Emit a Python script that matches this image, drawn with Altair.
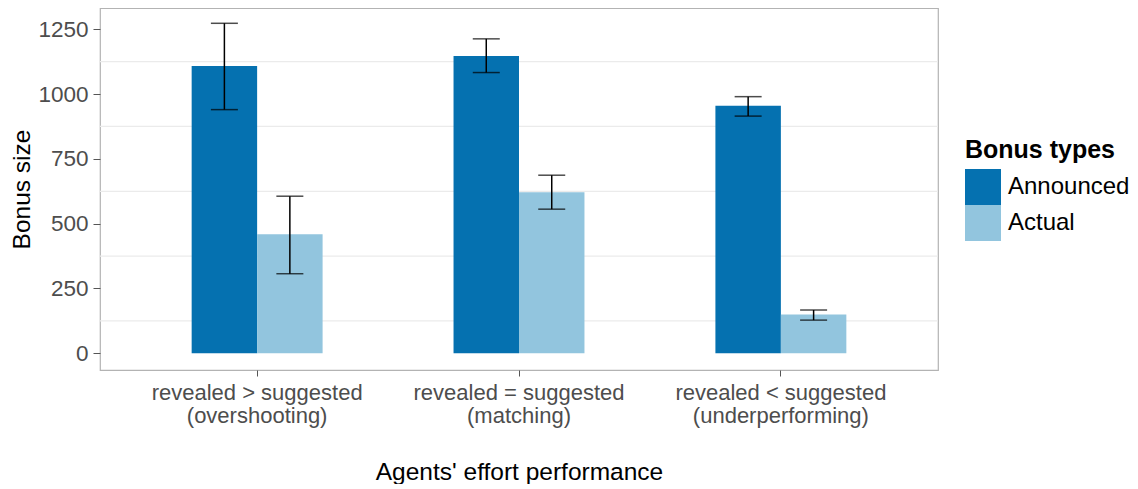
import altair as alt
import pandas as pd

categories = [
    "revealed > suggested|(overshooting)",
    "revealed = suggested|(matching)",
    "revealed < suggested|(underperforming)",
]
bonus_types = ["Announced", "Actual"]
announced_mean = [1108, 1147, 955]
announced_low = [940, 1083, 915]
announced_high = [1273, 1213, 990]
actual_mean = [459, 621, 150]
actual_low = [307, 556, 128]
actual_high = [606, 687, 167]
minor_grid = [125, 375, 625, 875, 1125]
y_ticks = [0, 250, 500, 750, 1000, 1250]
colors = ["#0571b0", "#92c5de"]

rows = []
for i, c in enumerate(categories):
    rows.append(dict(cat=c, type="Announced", mean=announced_mean[i], lo=announced_low[i], hi=announced_high[i]))
    rows.append(dict(cat=c, type="Actual", mean=actual_mean[i], lo=actual_low[i], hi=actual_high[i]))
df = pd.DataFrame(rows)
grid_df = pd.DataFrame({"mean": minor_grid})

FONT = "Liberation Sans"

yscale = alt.Scale(domain=[-64.4, 1332], nice=False, zero=False)
yaxis = alt.Axis(
    title="Bonus size",
    values=y_ticks,
    format="d",
    grid=False,
    domain=False,
    tickSize=7,
    tickColor="#555555",
    labelPadding=5,
    labelFontSize=22.5,
    labelColor="#4d4d4d",
    titleFontSize=24.5,
    titleFontWeight="normal",
    titleColor="black",
    titleAngle=270,
    titleX=-78,
    titleY=181,
    titleAlign="center",
    titleBaseline="middle",
)
xaxis = alt.Axis(
    title="Agents' effort performance",
    labelExpr="split(datum.label, '|')",
    labelAngle=0,
    labelLimit=500,
    domain=False,
    grid=False,
    tickSize=6,
    tickColor="#555555",
    labelPadding=6,
    labelFontSize=22,
    labelLineHeight=23.5,
    labelColor="#4d4d4d",
    titleFontSize=24.5,
    titleFontWeight="normal",
    titleColor="black",
    titleY=109,
    titleBaseline="alphabetic",
)

x_enc = alt.X("cat:N", sort=categories, scale=alt.Scale(paddingInner=0.5, paddingOuter=0.35), axis=xaxis)
xoff = alt.XOffset("type:N", sort=bonus_types, scale=alt.Scale(paddingInner=0, paddingOuter=0))

grid = alt.Chart(grid_df).mark_rule(color="#ebebeb", strokeWidth=1.2).encode(
    y=alt.Y("mean:Q", scale=yscale, axis=yaxis)
)

bars = alt.Chart(df).mark_bar().encode(
    x=x_enc,
    xOffset=xoff,
    y=alt.Y("mean:Q", scale=yscale, axis=yaxis),
    color=alt.Color(
        "type:N",
        sort=bonus_types,
        scale=alt.Scale(domain=bonus_types, range=colors),
        legend=alt.Legend(
            title="Bonus types",
            orient="none",
            legendX=865,
            legendY=130,
            symbolType="square",
            symbolSize=1296,
            symbolStrokeWidth=0,
            symbolOpacity=1,
            rowPadding=0,
            padding=0,
            labelOffset=7,
            labelFontSize=24,
            labelColor="black",
            titleFontSize=25,
            titleFontWeight="bold",
            titleColor="black",
            titlePadding=6,
        ),
    ),
)

err = alt.Chart(df).mark_rule(color="black", strokeWidth=1.5).encode(
    x=x_enc,
    xOffset=xoff,
    y=alt.Y("lo:Q", scale=yscale, axis=yaxis),
    y2="hi:Q",
)
cap_lo = alt.Chart(df).mark_tick(color="black", size=27, thickness=1.5).encode(
    x=x_enc,
    xOffset=xoff,
    y=alt.Y("lo:Q", scale=yscale, axis=yaxis),
)
cap_hi = alt.Chart(df).mark_tick(color="black", size=27, thickness=1.5).encode(
    x=x_enc,
    xOffset=xoff,
    y=alt.Y("hi:Q", scale=yscale, axis=yaxis),
)

chart = (
    alt.layer(grid, bars, err, cap_lo, cap_hi)
    .properties(
        width=838,
        height=362,
        autosize=alt.AutoSizeParams(type="none"),
        padding={"left": 92, "top": 0, "right": 192, "bottom": 114},
    )
    .configure(font=FONT)
    .configure_view(stroke="#b3b3b3", strokeWidth=1.2)
    .configure_axis(labelFont=FONT, titleFont=FONT)
    .configure_legend(labelFont=FONT, titleFont=FONT)
)

chart.save("out.html", embed_options={"renderer": "svg", "actions": False})
